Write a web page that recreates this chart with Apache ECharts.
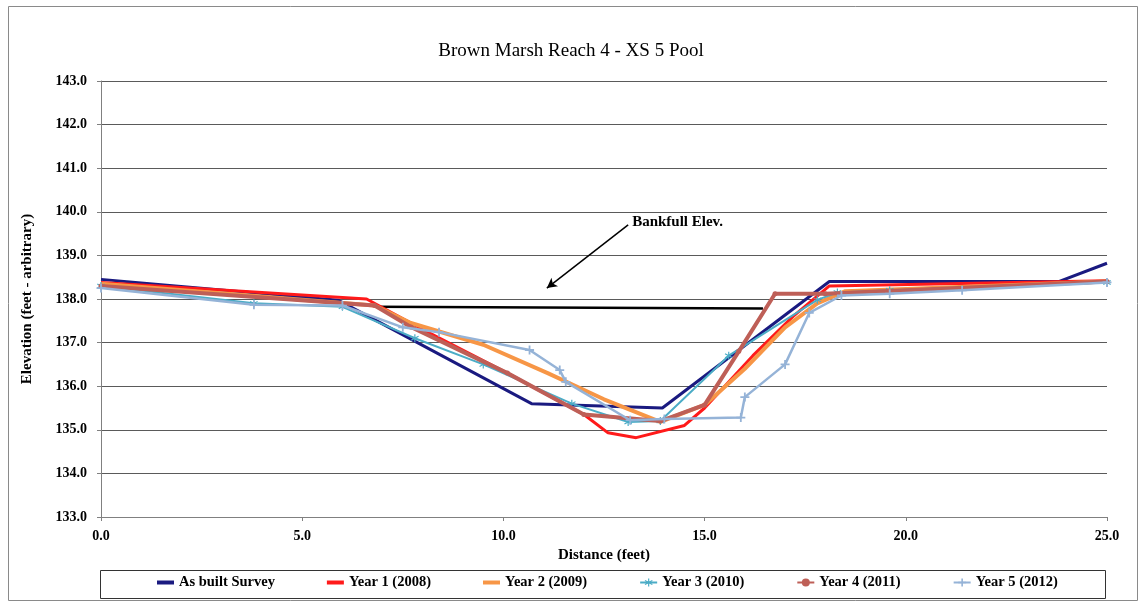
<!DOCTYPE html>
<html><head><meta charset="utf-8">
<script src="https://cdn.jsdelivr.net/npm/echarts@6/dist/echarts.min.js"></script>
<style>html,body{margin:0;padding:0;background:#fff}#c{width:1142px;height:606px}</style>
</head><body><div id="c"></div>
<script>
const chartTitle = 'Brown Marsh Reach 4 - XS 5 Pool';
const xTitle = 'Distance (feet)';
const yTitle = 'Elevation (feet - arbitrary)';
const seriesNames = ['As built Survey','Year 1 (2008)','Year 2 (2009)','Year 3 (2010)','Year 4 (2011)','Year 5 (2012)'];
const asBuilt = [[0,138.45],[5.9,137.97],[10.7,135.6],[13.95,135.5],[18.1,138.4],[23.8,138.4],[25,138.82]];
const year1 = [[0,138.38],[6.6,138.0],[7.0,137.8],[8.0,137.3],[10.1,136.3],[12.0,135.35],[12.6,134.93],[13.3,134.82],[14.5,135.1],[15.0,135.5],[16.2,136.7],[17.2,137.6],[18.1,138.3],[25,138.42]];
const year2 = [[0,138.35],[6.8,137.85],[7.7,137.45],[9.5,136.95],[11.1,136.3],[12.5,135.7],[13.9,135.18],[15.0,135.57],[16.0,136.4],[17.0,137.35],[17.8,137.9],[18.5,138.18],[25,138.4]];
const year3 = [[0,138.3],[3.8,137.9],[6.0,137.82],[7.8,137.1],[9.5,136.5],[11.7,135.6],[13.1,135.18],[13.9,135.2],[15.6,136.7],[17.8,137.98],[18.3,138.15],[19.6,138.2],[25,138.38]];
const year4 = [[0,138.3],[6.8,137.85],[7.7,137.36],[10.1,136.3],[12.0,135.35],[13.9,135.2],[15.0,135.57],[15.85,136.8],[16.75,138.12],[18.0,138.12],[25,138.4]];
const year5 = [[0,138.25],[3.8,137.87],[6.0,137.85],[7.5,137.35],[8.4,137.24],[10.65,136.83],[11.4,136.37],[11.55,136.1],[13.15,135.22],[14.0,135.25],[15.9,135.28],[16.0,135.75],[17.0,136.5],[17.6,137.68],[18.4,138.08],[19.6,138.12],[21.4,138.2],[25,138.38]];
const bankfull = [[6.8,137.82],[16.45,137.78]];
const bankfullLabel = 'Bankfull Elev.';
const bankfullLabelPos = [13.2,139.77];
const arrowFrom = [13.1,139.7];
const arrowTo = [11.08,138.25];
const xMin = 0, xMax = 25, xStep = 5;
const yMin = 133, yMax = 143, yStep = 1;

const FONT = '"Liberation Serif","Times New Roman",serif';
const colors = ['#1A1A80','#FF1A1A','#F79646','#4BACC6','#BE5F57','#95B3D7'];
const plusPath = 'path://M4,0H6V4H10V6H6V10H4V6H0V4H4Z';
const starPath = 'path://M4.3,0H5.7V3.8L9,1.9L9.7,3.1L6.4,5L9.7,6.9L9,8.1L5.7,6.2V10H4.3V6.2L1,8.1L0.3,6.9L3.6,5L0.3,3.1L1,1.9L4.3,3.8Z';
const barIcon = 'path://M0,0H17V4H0Z';
const datasets = [asBuilt, year1, year2, year3, year4, year5];
const widths = [3, 3, 4, 2, 4, 2.5];
const symbols = ['none','none','none',starPath,'circle',plusPath];
const symSizes = [0,0,0,8,5,9];

const chart = echarts.init(document.getElementById('c'), null, {renderer:'canvas'});
const series = datasets.map((d,i)=>({
  name: seriesNames[i], type:'line', data:d, z: 3+i,
  lineStyle:{color:colors[i], width:widths[i]},
  itemStyle:{color:colors[i]},
  symbol: symbols[i], symbolSize: symSizes[i], showSymbol: symbols[i] !== 'none',
  animation:false
}));
series.unshift({
  name:'Bankfull', type:'line', data:bankfull, z:2, symbol:'none',
  lineStyle:{color:'#000', width:2.5}, animation:false, silent:true,
  markLine:{silent:true, symbol:['none','arrow'], symbolSize:[8,10],
    lineStyle:{color:'#000', width:1.5, type:'solid'}, label:{show:false},
    data:[[{coord:arrowFrom},{coord:arrowTo}]]},
  markPoint:{silent:true, symbol:'circle', symbolSize:0,
    label:{show:true, position:'right', distance:0, formatter:bankfullLabel, fontFamily:FONT, fontWeight:'bold', fontSize:15, color:'#000'},
    data:[{coord:bankfullLabelPos}]}
});

const legendData = seriesNames.map((n,i)=> symbols[i]==='none' ? {name:n, icon:barIcon} : {name:n});

chart.setOption({
  animation:false,
  title:{text:chartTitle, left:'center', top:37, textStyle:{fontFamily:FONT, fontWeight:'normal', fontSize:19, color:'#000'}},
  grid:{left:101, right:35, top:81, bottom:89},
  legend:{data:legendData, bottom:11, left:152, itemGap:52, itemWidth:17, itemHeight:10,
    textStyle:{fontFamily:FONT, fontWeight:'bold', fontSize:14.5, color:'#000'}},
  xAxis:{type:'value', min:xMin, max:xMax, interval:xStep,
    name:xTitle, nameLocation:'middle', nameGap:27,
    nameTextStyle:{fontFamily:FONT, fontWeight:'bold', fontSize:15, color:'#000'},
    axisLine:{lineStyle:{color:'#808080'}}, axisTick:{show:true, length:4, lineStyle:{color:'#808080'}},
    axisLabel:{formatter:v=>v.toFixed(1), fontFamily:FONT, fontWeight:'bold', fontSize:14, color:'#000', margin:12},
    splitLine:{show:false}},
  yAxis:{type:'value', min:yMin, max:yMax, interval:yStep,
    name:yTitle, nameLocation:'middle', nameGap:66,
    nameTextStyle:{fontFamily:FONT, fontWeight:'bold', fontSize:15, color:'#000'},
    axisLine:{show:true, lineStyle:{color:'#808080'}}, axisTick:{show:true, length:4, lineStyle:{color:'#808080'}},
    axisLabel:{formatter:v=>v.toFixed(1), fontFamily:FONT, fontWeight:'bold', fontSize:14, color:'#000', margin:14},
    splitLine:{show:true, lineStyle:{color:'#5a5a5a', width:1}}},
  graphic:[
    {type:'rect', shape:{x:8.5, y:6.5, width:1129, height:594}, style:{fill:'none', stroke:'#8a8a8a', lineWidth:1}, silent:true},
    {type:'rect', shape:{x:100.5, y:570.5, width:1005, height:28}, style:{fill:'none', stroke:'#333', lineWidth:1}, silent:true}
  ],
  series: series
});
</script></body></html>
